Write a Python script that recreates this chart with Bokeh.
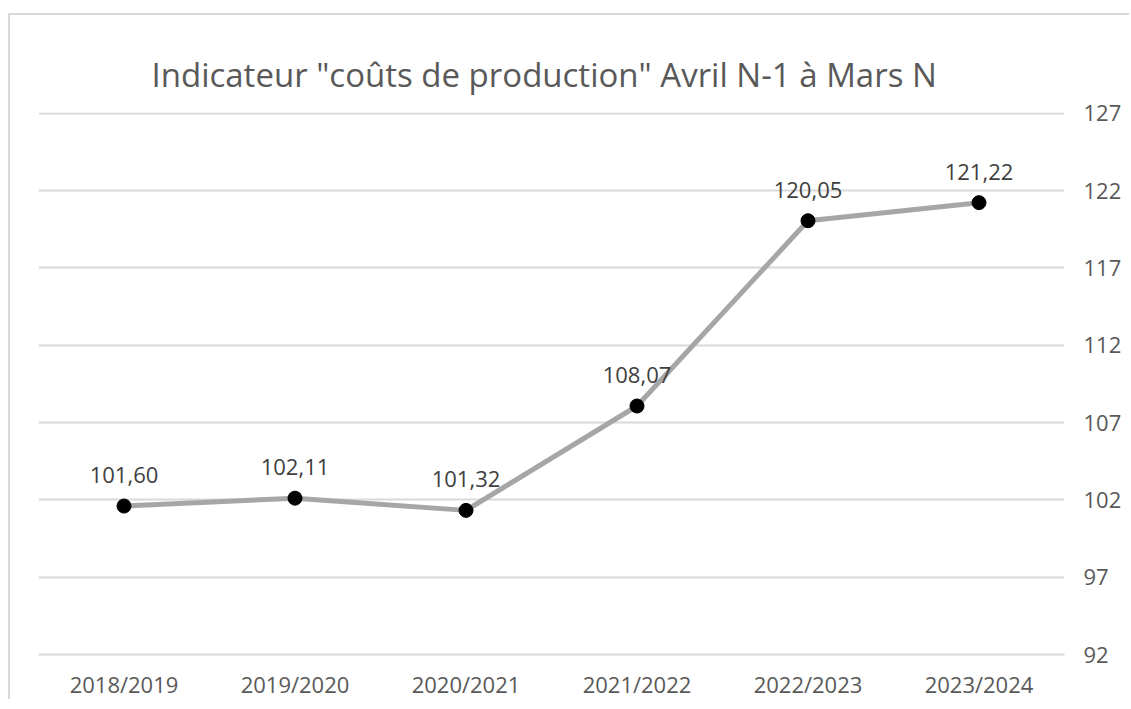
from bokeh.plotting import figure
from bokeh.models import ColumnDataSource, LinearAxis, FixedTicker, Title
from bokeh.embed import file_html
from bokeh.resources import INLINE
from bokeh.core.properties import value

categories = ["2018/2019", "2019/2020", "2020/2021", "2021/2022", "2022/2023", "2023/2024"]
values = [101.60, 102.11, 101.32, 108.07, 120.05, 121.22]
labels = ["101,60", "102,11", "101,32", "108,07", "120,05", "121,22"]
y_ticks = [92, 97, 102, 107, 112, 117, 122, 127]
title_text = 'Indicateur "coûts de production" Avril N-1 à Mars N'

FONT = "Open Sans"
TXT = "#595959"
GRID = "#d9d9d9"

src = ColumnDataSource(dict(x=categories, y=values, lab=labels))

p = figure(width=1121, height=686, x_range=categories, y_range=(92, 127.05),
           output_backend="svg", toolbar_location=None, y_axis_location=None,
           min_border_left=28, min_border_right=67, min_border_top=97, min_border_bottom=46)
p.styles = {"border-left": "2px solid #d9d9d9", "border-top": "2px solid #d9d9d9",
            "margin-top": "13px", "margin-left": "8px"}
p.background_fill_color = "white"
p.border_fill_color = "white"
p.outline_line_color = None

t = Title(text=title_text, align="left", text_font=FONT, text_font_size="33px",
          text_color=TXT, text_font_style="normal", offset=113, standoff=32)
p.add_layout(t, "above")

yaxis = LinearAxis(ticker=FixedTicker(ticks=y_ticks))
yaxis.axis_line_color = None
yaxis.major_tick_line_color = None
yaxis.minor_tick_line_color = None
yaxis.major_tick_out = 0
yaxis.major_label_standoff = 19
yaxis.major_label_text_font = FONT
yaxis.major_label_text_font_size = "22px"
yaxis.major_label_text_color = TXT
p.add_layout(yaxis, "right")

p.xaxis.axis_line_color = GRID
p.xaxis.axis_line_width = 2
p.xaxis.major_tick_line_color = None
p.xaxis.minor_tick_line_color = None
p.xaxis.major_tick_out = 0
p.xaxis.major_label_standoff = 14
p.xaxis.major_label_text_font = FONT
p.xaxis.major_label_text_font_size = "22px"
p.xaxis.major_label_text_color = TXT

p.xgrid.grid_line_color = None
p.ygrid.ticker = FixedTicker(ticks=y_ticks)
p.ygrid.grid_line_color = GRID
p.ygrid.grid_line_width = 2

p.line("x", "y", source=src, line_color="#a6a6a6", line_width=5)
p.scatter("x", "y", source=src, size=14, fill_color="black", line_color="black")
p.text("x", "y", text="lab", source=src, text_align="center", text_baseline="middle",
       y_offset=-31, text_font=value(FONT), text_font_size="22px", text_color="#404040")

open("out.html", "w").write(file_html(p, INLINE))
